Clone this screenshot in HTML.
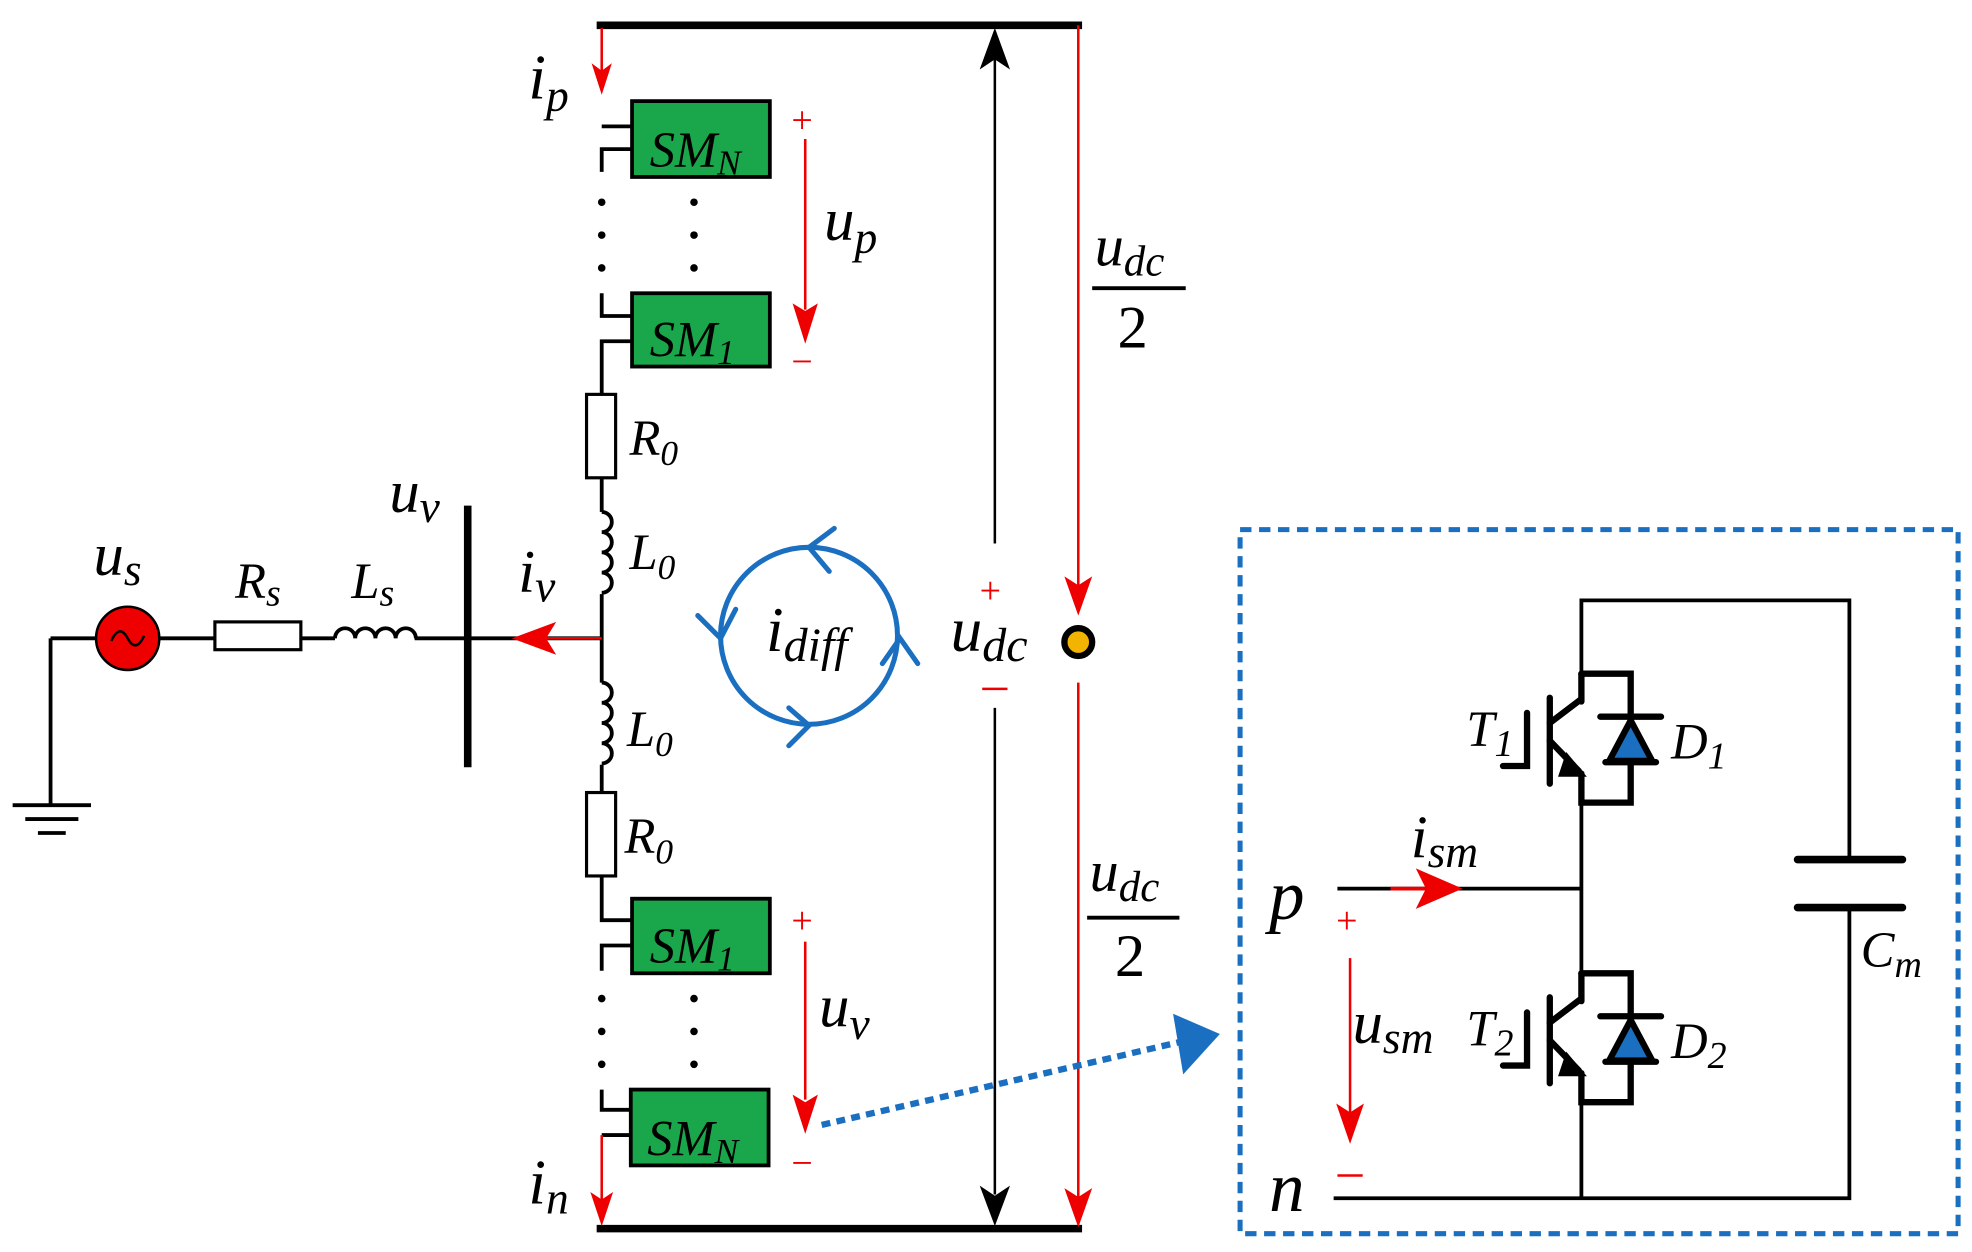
<!DOCTYPE html>
<html><head><meta charset="utf-8"><style>
html,body{margin:0;padding:0;background:#fff;}
svg{display:block;}
text{font-family:"Liberation Serif",serif;font-style:italic;}
</style></head><body>
<svg width="1972" height="1252" viewBox="0 0 1560 990.5" preserveAspectRatio="none" xmlns="http://www.w3.org/2000/svg">
<defs>
<g id="igbt" stroke="#000" stroke-width="5" fill="none" stroke-linecap="round">
<polyline points="1251,533 1290,533 1290,635 1251,635 1251,612"/>
<line x1="1251" y1="533" x2="1251" y2="555"/>
<line x1="1226" y1="572" x2="1251" y2="553"/>
<line x1="1226" y1="586" x2="1249" y2="610"/>
<line x1="1226" y1="552" x2="1226" y2="620"/>
<polyline points="1208,564 1208,606 1189,606"/>
<polygon points="1240,600 1250,612 1236,612" fill="#000"/>
<line x1="1266" y1="567" x2="1314" y2="567"/>
<polygon points="1290,570 1273,602 1307,602" fill="#1a6fc0"/>
<line x1="1270" y1="603" x2="1310" y2="603"/>
</g>
<g id="coil" fill="none" stroke="#000" stroke-width="3">
<path d="M0,0 a8,8 0 1 1 0,16 a8,8 0 1 1 0,16 a8,8 0 1 1 0,16 a8,8 0 1 1 0,16"/>
</g>
</defs>

<!-- buses -->
<line x1="472" y1="20" x2="856" y2="20" stroke="#000" stroke-width="6"/>
<line x1="472" y1="972" x2="856" y2="972" stroke="#000" stroke-width="6"/>

<g stroke="#000" stroke-width="3" fill="none">
<!-- upper arm wiring -->
<polyline points="476,100 500,100"/>
<polyline points="500,118 476,118 476,136"/>
<polyline points="476,232 476,250 500,250"/>
<polyline points="500,270 476,270 476,312"/>
<line x1="476" y1="378" x2="476" y2="405"/>
<line x1="476" y1="470" x2="476" y2="540"/>
<line x1="476" y1="605" x2="476" y2="627"/>
<polyline points="476,693 476,728 500,728"/>
<polyline points="500,748 476,748 476,768"/>
<polyline points="476,862 476,878 500,878"/>
<line x1="476" y1="898" x2="500" y2="898"/>
<!-- horizontal ac line -->
<line x1="40" y1="505" x2="76" y2="505"/>
<line x1="126" y1="505" x2="170" y2="505"/>
<line x1="238" y1="505" x2="265" y2="505"/>
<line x1="328" y1="505" x2="476" y2="505"/>
<polyline points="40,505 40,637"/>
<line x1="10" y1="637" x2="72" y2="637"/>
<line x1="20" y1="648" x2="62" y2="648"/>
<line x1="30" y1="659" x2="52" y2="659"/>
</g>
<line x1="370" y1="400" x2="370" y2="607" stroke="#000" stroke-width="6"/>
<line x1="476" y1="505" x2="430" y2="505" stroke="#e00" stroke-width="2"/>
<polygon points="405,505 440,492 432,505 440,518" fill="#e00"/>

<!-- dots -->
<g fill="#000">
<circle cx="476" cy="160" r="3"/><circle cx="476" cy="186" r="3"/><circle cx="476" cy="212" r="3"/>
<circle cx="549" cy="160" r="3"/><circle cx="549" cy="186" r="3"/><circle cx="549" cy="212" r="3"/>
<circle cx="476" cy="790" r="3"/><circle cx="476" cy="816" r="3"/><circle cx="476" cy="842" r="3"/>
<circle cx="549" cy="790" r="3"/><circle cx="549" cy="816" r="3"/><circle cx="549" cy="842" r="3"/>
</g>

<!-- SMs -->
<g fill="#1aa64a" stroke="#000" stroke-width="3">
<rect x="500" y="80" width="109" height="60"/>
<rect x="500" y="232" width="109" height="58"/>
<rect x="500" y="711" width="109" height="59"/>
<rect x="499" y="862" width="109" height="60"/>
</g>
<g font-size="40" fill="#000">
<text x="514" y="132">SM<tspan font-size="28" dy="6">N</tspan></text>
<text x="514" y="282">SM<tspan font-size="28" dy="6">1</tspan></text>
<text x="514" y="762">SM<tspan font-size="28" dy="6">1</tspan></text>
<text x="512" y="914">SM<tspan font-size="28" dy="6">N</tspan></text>
</g>

<!-- R0 L0 -->
<g fill="#fff" stroke="#000" stroke-width="2.5">
<rect x="464" y="312" width="23" height="66"/>
<rect x="464" y="627" width="23" height="66"/>
<rect x="170" y="492" width="68" height="22"/>
</g>
<use href="#coil" transform="translate(476,405)"/>
<use href="#coil" transform="translate(476,540)"/>
<path d="M265,505 a8,8 0 1 1 16,0 a8,8 0 1 1 16,0 a8,8 0 1 1 16,0 a8,8 0 1 1 16,0" fill="none" stroke="#000" stroke-width="3"/>
<circle cx="101" cy="505" r="25" fill="#e00" stroke="#000" stroke-width="2"/>
<path d="M88,507 q6.5,-14 13,-2 t13,-2" fill="none" stroke="#000" stroke-width="2"/>

<!-- red arrows on arm -->
<line x1="476" y1="22" x2="476" y2="60" stroke="#e00" stroke-width="2"/>
<polygon points="476,75 468,50 476,56 484,50" fill="#e00"/>
<line x1="476" y1="898" x2="476" y2="950" stroke="#e00" stroke-width="2"/>
<polygon points="476,970 467,943 476,949 485,943" fill="#e00"/>
<!-- up / uv -->
<line x1="637" y1="110" x2="637" y2="245" stroke="#e00" stroke-width="2"/>
<polygon points="637,272 627,240 637,246 647,240" fill="#e00"/>
<line x1="637" y1="745" x2="637" y2="870" stroke="#e00" stroke-width="2"/>
<polygon points="637,897 627,866 637,872 647,866" fill="#e00"/>
<g fill="#e00" font-size="30" font-style="normal">
<text x="626" y="105" style="font-style:normal">+</text>
<text x="626" y="296" style="font-style:normal">−</text>
<text x="626" y="738" style="font-style:normal">+</text>
<text x="626" y="930" style="font-style:normal">−</text>
<text x="775" y="477" style="font-style:normal">+</text>
<text x="1057" y="738" style="font-style:normal">+</text>
</g>
<line x1="777" y1="545" x2="797" y2="545" stroke="#e00" stroke-width="2"/>
<line x1="628" y1="290" x2="648" y2="290" stroke="#fff" stroke-width="0"/>
<line x1="1058" y1="930" x2="1078" y2="930" stroke="#e00" stroke-width="2"/>

<!-- udc arrow -->
<line x1="787" y1="45" x2="787" y2="430" stroke="#000" stroke-width="2"/>
<line x1="787" y1="560" x2="787" y2="945" stroke="#000" stroke-width="2"/>
<polygon points="787,22 775,55 787,47 799,55" fill="#000"/>
<polygon points="787,970 775,938 787,946 799,938" fill="#000"/>
<!-- red udc/2 -->
<line x1="853" y1="20" x2="853" y2="465" stroke="#e00" stroke-width="2"/>
<polygon points="853,487 842,456 853,463 864,456" fill="#e00"/>
<line x1="853" y1="540" x2="853" y2="950" stroke="#e00" stroke-width="2"/>
<polygon points="853,971 842,940 853,947 864,940" fill="#e00"/>
<circle cx="853" cy="508" r="11" fill="#f2b400" stroke="#000" stroke-width="5"/>

<!-- idiff circle -->
<circle cx="640" cy="503" r="70" fill="none" stroke="#1a6fc0" stroke-width="4"/>
<g fill="none" stroke="#1a6fc0" stroke-width="4" stroke-linecap="round">
<polyline points="660,418 640,433 656,452"/>
<polyline points="552,487 570,505 582,482"/>
<polyline points="624,560 640,574 624,590"/>
<polyline points="698,525 712,505 726,525"/>
</g>

<!-- dotted blue arrow -->
<line x1="650" y1="890" x2="935" y2="824" stroke="#1a6fc0" stroke-width="5" stroke-dasharray="7,5"/>
<polygon points="965,818 928,802 936,850" fill="#1a6fc0"/>
<!-- dashed box -->
<rect x="981" y="419" width="568" height="557" fill="none" stroke="#1a6fc0" stroke-width="4" stroke-dasharray="9,6"/>

<!-- submodule -->
<g stroke="#000" stroke-width="3" fill="none">
<polyline points="1251,533 1251,475 1463,475 1463,680"/>
<polyline points="1463,718 1463,948 1055,948"/>
<line x1="1251" y1="635" x2="1251" y2="770"/>
<line x1="1251" y1="872" x2="1251" y2="948"/>
<line x1="1058" y1="703" x2="1251" y2="703"/>
</g>
<g stroke="#000" stroke-width="6" stroke-linecap="round">
<line x1="1422" y1="680" x2="1505" y2="680"/>
<line x1="1422" y1="718" x2="1505" y2="718"/>
</g>
<use href="#igbt"/>
<use href="#igbt" transform="translate(0,237)"/>
<line x1="1100" y1="703" x2="1130" y2="703" stroke="#e00" stroke-width="3"/>
<polygon points="1157,703 1120,687 1128,703 1120,719" fill="#e00"/>
<line x1="1068" y1="758" x2="1068" y2="880" stroke="#e00" stroke-width="2"/>
<polygon points="1068,905 1057,873 1068,880 1079,873" fill="#e00"/>

<!-- labels -->
<g fill="#000">
<text x="418" y="78" font-size="50">i<tspan font-size="36" dy="10">p</tspan></text>
<text x="418" y="952" font-size="50">i<tspan font-size="36" dy="8">n</tspan></text>
<text x="652" y="190" font-size="48">u<tspan font-size="36" dy="10">p</tspan></text>
<text x="648" y="812" font-size="48">u<tspan font-size="36" dy="10">v</tspan></text>
<text x="498" y="360" font-size="40">R<tspan font-size="28" dy="8">0</tspan></text>
<text x="494" y="675" font-size="40">R<tspan font-size="28" dy="8">0</tspan></text>
<text x="498" y="450" font-size="40">L<tspan font-size="28" dy="8">0</tspan></text>
<text x="496" y="590" font-size="40">L<tspan font-size="28" dy="8">0</tspan></text>
<text x="410" y="468" font-size="48">i<tspan font-size="36" dy="8">v</tspan></text>
<text x="308" y="405" font-size="48">u<tspan font-size="36" dy="8">v</tspan></text>
<text x="74" y="455" font-size="48">u<tspan font-size="36" dy="8">s</tspan></text>
<text x="186" y="473" font-size="40">R<tspan font-size="30" dy="6">s</tspan></text>
<text x="278" y="473" font-size="40">L<tspan font-size="30" dy="6">s</tspan></text>
<text x="606" y="515" font-size="50">i<tspan font-size="38" dy="8">diff</tspan></text>
<text x="752" y="515" font-size="50">u<tspan font-size="38" dy="8">dc</tspan></text>
<text x="866" y="210" font-size="46">u<tspan font-size="34" dy="8">dc</tspan></text>
<text x="884" y="275" font-size="48" style="font-style:normal">2</text>
<text x="862" y="705" font-size="46">u<tspan font-size="34" dy="8">dc</tspan></text>
<text x="882" y="772" font-size="48" style="font-style:normal">2</text>
<text x="1004" y="727" font-size="56">p</text>
<text x="1004" y="958" font-size="56">n</text>
<text x="1116" y="678" font-size="48">i<tspan font-size="36" dy="8">sm</tspan></text>
<text x="1070" y="825" font-size="48">u<tspan font-size="36" dy="8">sm</tspan></text>
<text x="1160" y="590" font-size="40">T<tspan font-size="30" dy="8">1</tspan></text>
<text x="1160" y="827" font-size="40">T<tspan font-size="30" dy="8">2</tspan></text>
<text x="1322" y="600" font-size="40">D<tspan font-size="30" dy="8">1</tspan></text>
<text x="1322" y="837" font-size="40">D<tspan font-size="30" dy="8">2</tspan></text>
<text x="1472" y="765" font-size="40">C<tspan font-size="30" dy="8">m</tspan></text>
</g>
<line x1="864" y1="228" x2="938" y2="228" stroke="#000" stroke-width="3"/>
<line x1="860" y1="726" x2="933" y2="726" stroke="#000" stroke-width="3"/>
</svg>
</body></html>
